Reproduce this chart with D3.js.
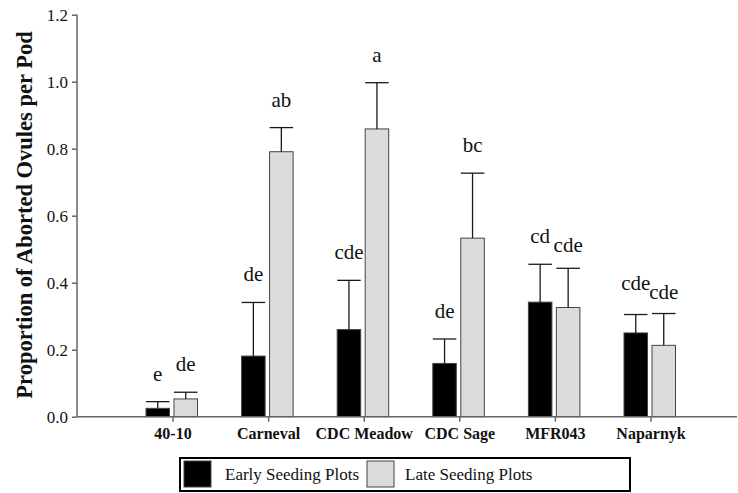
<!DOCTYPE html>
<html>
<head>
<meta charset="utf-8">
<script src="https://cdn.jsdelivr.net/npm/d3@7"></script>
<style>
  html, body { margin: 0; padding: 0; background: #fff; }
  svg { display: block; }
  svg text { font-family: "Liberation Serif", "Times New Roman", Tinos, "DejaVu Serif", serif; }
</style>
</head>
<body>
<svg id="chart" width="738" height="493"></svg>
<script>
// Cultivars and treatment series
const cultivars = ["40-10", "Carneval", "CDC Meadow", "CDC Sage", "MFR043", "Naparnyk"];
const seriesNames = ["Early Seeding Plots", "Late Seeding Plots"];

// Mean proportion of aborted ovules per pod
const earlyMeans = [0.025, 0.181, 0.260, 0.159, 0.342, 0.250];
const lateMeans  = [0.053, 0.791, 0.859, 0.533, 0.326, 0.213];

// Upper error (standard error) added to each mean
const earlyErr = [0.020, 0.160, 0.147, 0.073, 0.113, 0.055];
const lateErr  = [0.020, 0.072, 0.138, 0.194, 0.117, 0.095];

// Mean separation letters
const earlyLetters = ["e", "de", "cde", "de", "cd", "cde"];
const lateLetters  = ["de", "ab", "a", "bc", "cde", "cde"];

// Y-axis ticks
const yTicks = [0.0, 0.2, 0.4, 0.6, 0.8, 1.0, 1.2];

const svg = d3.select("#chart");
const serif = '"Liberation Serif", "Times New Roman", Tinos, "DejaVu Serif", serif';

const yAxisX = 77;
const plotRight = 737;
const y = d3.scaleLinear().domain([0, 1.2]).range([416.7, 14.7]);

const x0 = d3.scaleBand().domain(cultivars).range([125.2, 698.8]).padding(0);
const x1 = d3.scaleBand().domain(seriesNames)
  .range([x0.bandwidth() / 2 - 27, x0.bandwidth() / 2 + 24.5])
  .paddingInner(0.16);

const fills = { "Early Seeding Plots": "#000000", "Late Seeding Plots": "#dcdcdc" };

const rows = [];
cultivars.forEach((c, i) => {
  rows.push({ cultivar: c, series: seriesNames[0], mean: earlyMeans[i], err: earlyErr[i], letter: earlyLetters[i] });
  rows.push({ cultivar: c, series: seriesNames[1], mean: lateMeans[i], err: lateErr[i], letter: lateLetters[i] });
});

// Bars
svg.append("g").selectAll("rect").data(rows).join("rect")
  .attr("x", d => x0(d.cultivar) + x1(d.series))
  .attr("y", d => y(d.mean))
  .attr("width", x1.bandwidth())
  .attr("height", d => y(0) - y(d.mean))
  .attr("fill", d => fills[d.series])
  .attr("stroke", "#444")
  .attr("stroke-width", 1);

// Upper error bars
const errG = svg.append("g").attr("stroke", "#1a1a1a").attr("stroke-width", 1.3);
rows.forEach(d => {
  const cx = x0(d.cultivar) + x1(d.series) + x1.bandwidth() / 2;
  const left = x0(d.cultivar) + x1(d.series);
  errG.append("line").attr("x1", cx).attr("x2", cx).attr("y1", y(d.mean)).attr("y2", y(d.mean + d.err));
  errG.append("line").attr("x1", left).attr("x2", left + x1.bandwidth())
    .attr("y1", y(d.mean + d.err)).attr("y2", y(d.mean + d.err));
});

// Letters above the error caps; the Naparnyk pair is staggered so they do not touch
const stagger = { "Naparnyk|Early Seeding Plots": -4, "Naparnyk|Late Seeding Plots": 6, "MFR043|Late Seeding Plots": 5 };
svg.append("g").selectAll("text").data(rows).join("text")
  .attr("x", d => x0(d.cultivar) + x1(d.series) + x1.bandwidth() / 2)
  .attr("y", d => y(d.mean + d.err) - 21 + (stagger[d.cultivar + "|" + d.series] || 0))
  .attr("text-anchor", "middle")
  .style("font-family", serif)
  .attr("font-size", 21)
  .attr("fill", "#111")
  .text(d => d.letter);

// Y axis
const yAxis = d3.axisLeft(y).tickValues(yTicks).tickFormat(d3.format(".1f")).tickSize(5).tickPadding(4);
const gy = svg.append("g").attr("transform", `translate(${yAxisX},0)`).call(yAxis).attr("font-family", null);
gy.select(".domain").attr("stroke", "#666").attr("stroke-width", 1.5).attr("d", `M0,${y(1.2)}V${y(0)}`);
gy.selectAll(".tick line").attr("stroke", "#666").attr("stroke-width", 1.5);
gy.selectAll(".tick text").style("font-family", serif).attr("font-size", 17).attr("fill", "#111");

// X axis
const xAxis = d3.axisBottom(x0).tickSize(5).tickPadding(8);
const gx = svg.append("g").attr("transform", `translate(0,${y(0)})`).call(xAxis).attr("font-family", null);
gx.select(".domain").attr("stroke", "#666").attr("stroke-width", 1.5).attr("d", `M${yAxisX},0H${plotRight}`);
gx.selectAll(".tick line").attr("stroke", "#666").attr("stroke-width", 1.5);
gx.selectAll(".tick text").style("font-family", serif).attr("font-size", 16)
  .attr("font-weight", "bold").attr("fill", "#111")
  .attr("y", 22).attr("dy", null);

// Y axis title
svg.append("text")
  .attr("transform", "translate(32,215) rotate(-90)")
  .attr("text-anchor", "middle")
  .style("font-family", serif)
  .attr("font-size", 22.5)
  .attr("font-weight", "bold")
  .attr("fill", "#111")
  .text("Proportion of Aborted Ovules per Pod");

// Legend
const lg = svg.append("g");
lg.append("rect").attr("x", 180).attr("y", 458).attr("width", 450).attr("height", 33)
  .attr("fill", "#fff").attr("stroke", "#000").attr("stroke-width", 2);
const legendItems = [
  { name: seriesNames[0], sx: 184, tx: 225 },
  { name: seriesNames[1], sx: 367, tx: 405 }
];
legendItems.forEach(it => {
  lg.append("rect").attr("x", it.sx).attr("y", 461).attr("width", 27).attr("height", 26)
    .attr("fill", fills[it.name]).attr("stroke", "#444").attr("stroke-width", 1);
  lg.append("text").attr("x", it.tx).attr("y", 480).style("font-family", serif)
    .attr("font-size", 17).attr("fill", "#111").text(it.name);
});
</script>
</body>
</html>
